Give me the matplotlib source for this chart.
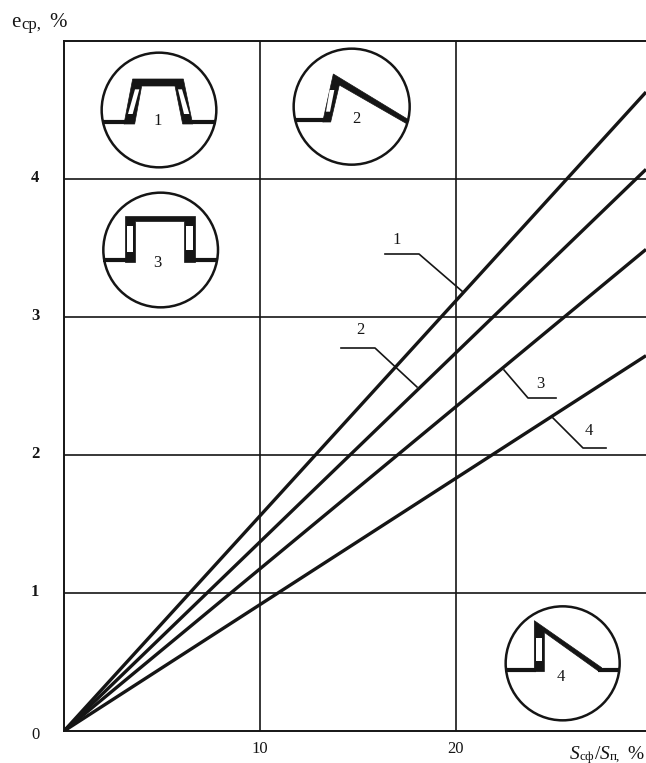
import matplotlib
matplotlib.use('Agg')
import matplotlib.pyplot as plt
from matplotlib.patches import Circle, Polygon

# values read at the origin and at the right edge of the plot
x_vals = [0, 29.69]
curve1 = [0, 4.63]
curve2 = [0, 4.07]
curve3 = [0, 3.49]
curve4 = [0, 2.72]
curves = [curve1, curve2, curve3, curve4]
x_ticks = [10, 20]
y_ticks = [1, 2, 3, 4]
x_tick_labels = ['10', '20']
y_tick_labels = ['1', '2', '3', '4']

W, H = 646, 763
INK = '#151515'
SERIF = 'Liberation Serif'

fig = plt.figure(figsize=(W / 100, H / 100), dpi=100)

# plot box in pixels: left 64, right 646, top 41, bottom 731
ax = fig.add_axes([64 / W, 1 - 731 / H, (646 - 64) / W, (731 - 41) / H])
ax.set_xlim(0, 29.69)
ax.set_ylim(0, 5)
ax.set_xticks(x_ticks)
ax.set_yticks(y_ticks)
ax.set_xticklabels([])
ax.set_yticklabels([])
ax.tick_params(length=0)
ax.grid(True, color=INK, lw=1.2)
ax.set_axisbelow(True)
ax.spines['right'].set_visible(False)
for s in ['left', 'top', 'bottom']:
    ax.spines[s].set_color(INK)
    ax.spines[s].set_linewidth(1.4)
for c in curves:
    ax.plot(x_vals, c, color=INK, lw=2.4, solid_capstyle='butt')

# overlay in pixel coordinates for the sketches, leaders and labels
ov = fig.add_axes([0, 0, 1, 1])
ov.set_xlim(0, W)
ov.set_ylim(H, 0)
ov.axis('off')


def sketch(x0, y0, circle, blacks, windows, bases, num):
    # shapes are given in 3x crop coordinates, x0/y0 is the crop corner
    def conv(pts):
        return [(x0 + a / 3, y0 + b / 3) for a, b in pts]
    cx, cy = conv([circle[:2]])[0]
    ov.add_patch(Circle((cx, cy), circle[2] / 3, fc='white', ec=INK, lw=1.8, zorder=3))
    for b in bases:
        p = conv(b)
        ov.plot([p[0][0], p[1][0]], [p[0][1], p[1][1]], color=INK, lw=3.0,
                solid_capstyle='butt', zorder=4)
    for b in blacks:
        ov.add_patch(Polygon(conv(b), fc=INK, ec=INK, lw=0.5, zorder=4))
    for w in windows:
        ov.add_patch(Polygon(conv(w), fc='white', ec='none', zorder=5))
    p = conv([num[:2]])[0]
    ov.text(p[0], p[1], num[2], ha='center', va='center', fontsize=12,
            family=SERIF, color=INK, zorder=6)


sketch(60, 40, (297, 210, 172),
       [[(192, 252), (218, 117), (370, 117), (398, 252), (368, 252), (345, 138), (245, 138), (224, 252)]],
       [[(225, 148), (238, 148), (218, 222), (204, 222)], [(354, 148), (366, 148), (388, 222), (372, 222)]],
       [[(128, 245), (195, 245)], [(395, 245), (467, 245)]],
       (292, 243, '1'))
sketch(60, 40, (302, 630, 172),
       [[(195, 528), (405, 528), (405, 665), (372, 665), (372, 543), (225, 543), (225, 665), (195, 665)]],
       [[(201, 558), (218, 558), (218, 635), (201, 635)], [(378, 558), (400, 558), (400, 630), (378, 630)]],
       [[(130, 660), (198, 660)], [(402, 660), (474, 660)]],
       (292, 670, '3'))
sketch(260, 60, (275, 140, 174),
       [[(188, 186), (220, 42), (447, 180), (440, 191), (238, 75), (212, 186)]],
       [[(209, 90), (223, 90), (210, 155), (198, 155)]],
       [[(105, 180), (192, 180)]],
       (288, 178, '2'))
sketch(480, 600, (248, 190, 171),
       [[(163, 215), (163, 62), (365, 203), (355, 213), (193, 97), (193, 215)]],
       [[(168, 115), (187, 115), (187, 183), (168, 183)]],
       [[(78, 210), (168, 210)], [(355, 209), (418, 209)]],
       (242, 232, '4'))

# leaders to the curves
leaders = [
    ([385, 419, 463], [254, 254, 292], '1', 397, 240),
    ([341, 375, 417], [348, 348, 387], '2', 360, 330),
    ([504, 528, 556], [370, 398, 398], '3', 540, 384),
    ([553, 583, 606], [418, 448, 448], '4', 589, 431),
]
for xs, ys, t, tx, ty in leaders:
    ov.plot(xs, ys, color=INK, lw=1.2)
    ov.text(tx, ty, t, ha='center', va='center', fontsize=12, family=SERIF, color=INK)

# tick labels
for v, t in zip(y_ticks, y_tick_labels):
    py = 731 - v * 138
    ov.text(35, py - 1, t, ha='center', va='center', fontsize=12, family=SERIF,
            fontweight='bold', color=INK)
ov.text(35, 735, '0', ha='center', va='center', fontsize=12, family=SERIF, color=INK)
for v, t in zip(x_ticks, x_tick_labels):
    px = 64 + v * 19.6
    ov.text(px, 749, t, ha='center', va='center', fontsize=12, family=SERIF, color=INK)

# axis titles, built from pieces because of the subscripts
ov.text(11, 27, 'e', fontsize=15, family=SERIF, color=INK, va='baseline')
ov.text(21, 29, 'ср,', fontsize=12, family=SERIF, color=INK, va='baseline')
ov.text(49, 27, '%', fontsize=15, family=SERIF, color=INK, va='baseline')

ov.text(570, 759, 'S', fontsize=14, family=SERIF, style='italic', color=INK, va='baseline')
ov.text(580, 760, 'сф', fontsize=9.5, family=SERIF, color=INK, va='baseline')
ov.text(595, 759, '/', fontsize=14, family=SERIF, color=INK, va='baseline')
ov.text(600, 759, 'S', fontsize=14, family=SERIF, style='italic', color=INK, va='baseline')
ov.text(610, 760, 'п,', fontsize=9.5, family=SERIF, color=INK, va='baseline')
ov.text(627, 759, '%', fontsize=14, family=SERIF, color=INK, va='baseline')

fig.savefig('out.png', dpi=100)
